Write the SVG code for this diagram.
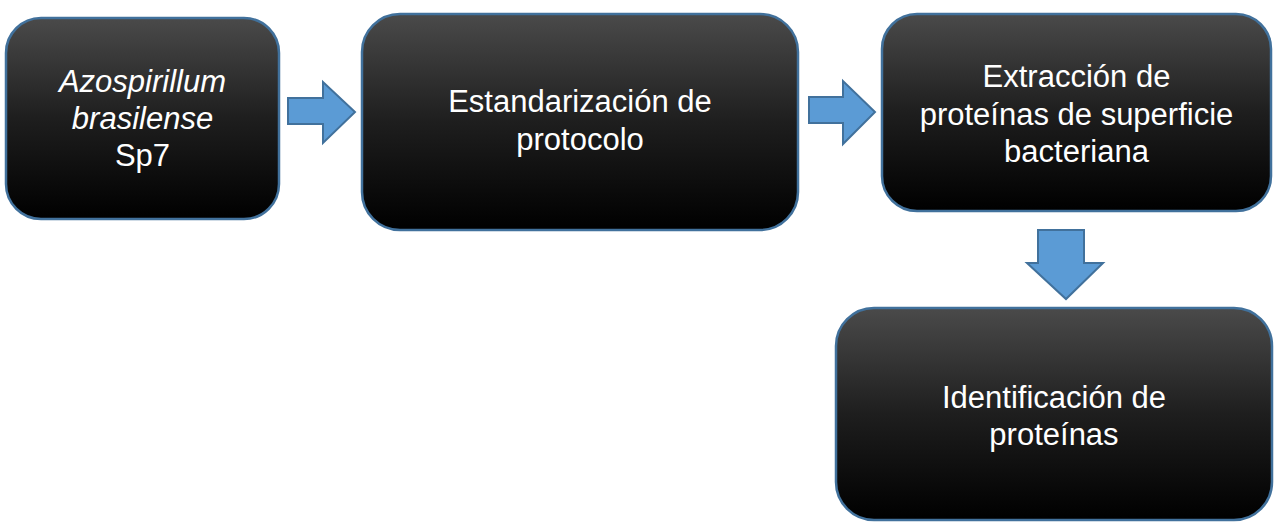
<svg xmlns="http://www.w3.org/2000/svg" width="1278" height="522" viewBox="0 0 1278 522">
<defs>
<linearGradient id="g" x1="0" y1="0" x2="0" y2="1">
<stop offset="0" stop-color="#4a4a4a"/>
<stop offset="0.5" stop-color="#1e1e1e"/>
<stop offset="1" stop-color="#000000"/>
</linearGradient>
<style>
.box{fill:url(#g);stroke:#41719c;stroke-width:2.5}
.t{fill:#ffffff;font-family:"Liberation Sans",Arial,sans-serif;font-size:31px;text-anchor:middle}
.arr{fill:#5b9bd5;stroke:#41719c;stroke-width:2;stroke-linejoin:miter}
</style>
</defs>
<rect width="1278" height="522" fill="#ffffff"/>
<g id="n1">
<rect class="box" x="6" y="18" width="273" height="201" rx="35" ry="35"/>
<text class="t" x="142.5" y="92" font-style="italic">Azospirillum</text>
<text class="t" x="142.5" y="129" font-style="italic">brasilense</text>
<text class="t" x="142.5" y="166">Sp7</text>
</g>
<g id="n2">
<rect class="box" x="362" y="14" width="436" height="216" rx="38" ry="38"/>
<text class="t" x="580" y="112">Estandarización de</text>
<text class="t" x="580" y="150">protocolo</text>
</g>
<g id="n3">
<rect class="box" x="882" y="14" width="389" height="197" rx="35" ry="35"/>
<text class="t" x="1076.5" y="87">Extracción de</text>
<text class="t" x="1076.5" y="124.5">proteínas de superficie</text>
<text class="t" x="1076.5" y="162">bacteriana</text>
</g>
<g id="n4">
<rect class="box" x="836" y="308" width="436" height="212" rx="38" ry="38"/>
<text class="t" x="1054" y="408">Identificación de</text>
<text class="t" x="1054" y="445">proteínas</text>
</g>
<g id="connectors">
<polygon class="arr" points="288,98 323,98 323,82 355,112 323,143 323,124 288,124"/>
<polygon class="arr" points="809,97 843,97 843,81 875,112 843,144 843,123 809,123"/>
<polygon class="arr" points="1038,230 1084,230 1084,263 1103,263 1066,299 1027,263 1038,263"/>
</g>
</svg>
